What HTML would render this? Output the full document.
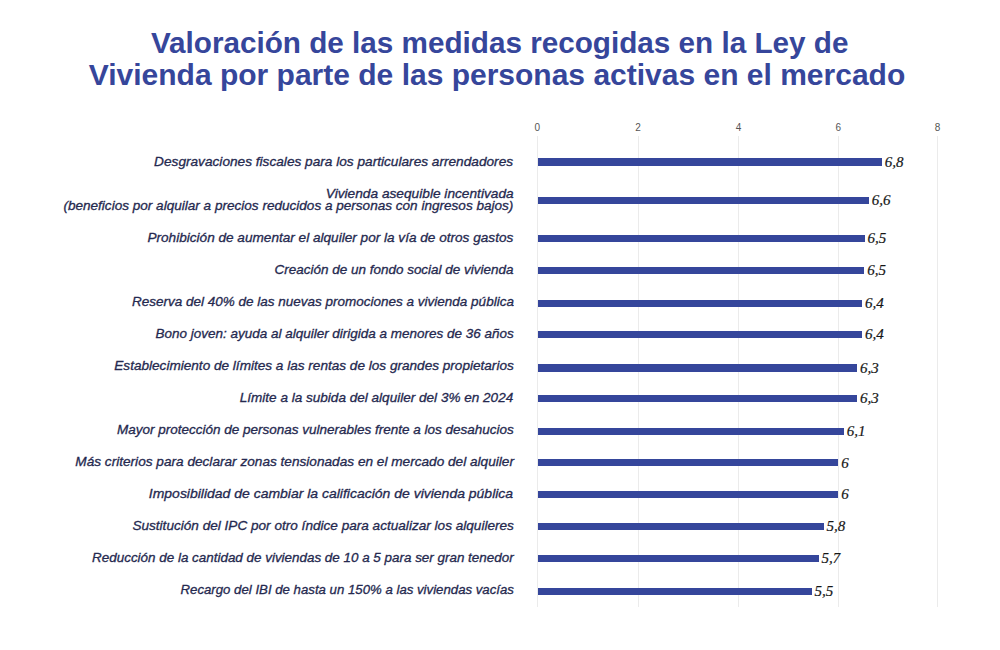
<!DOCTYPE html>
<html><head><meta charset="utf-8"><style>
html,body{margin:0;padding:0;background:#fff;}
body{width:1000px;height:650px;position:relative;overflow:hidden;font-family:"Liberation Sans",sans-serif;}
.title{position:absolute;left:0;width:1000px;text-align:center;color:#36469b;font-weight:bold;font-size:30px;line-height:32px;white-space:nowrap;}
.title span{display:inline-block;}
.g{position:absolute;top:136px;height:471px;width:1px;background:#ebebeb;}
.t{position:absolute;top:121px;width:40px;text-align:center;font-size:10px;line-height:14px;color:#555;}
.b{position:absolute;left:537.5px;height:7.2px;background:#35469b;}
.v{position:absolute;font-family:"Liberation Serif",serif;font-style:italic;font-size:15px;line-height:16px;color:#161616;-webkit-text-stroke:0.2px #161616;white-space:nowrap;}
.l{position:absolute;right:486.5px;font-style:italic;font-size:13.4px;line-height:14px;color:#25294f;-webkit-text-stroke:0.3px #25294f;white-space:nowrap;transform-origin:right center;}
</style></head><body>
<div class="title" style="top:27px"><span style="transform:scaleX(0.989)">Valoración de las medidas recogidas en la Ley de</span></div>
<div class="title" style="top:59px;left:-3px"><span>Vivienda por parte de las personas activas en el mercado</span></div>
<div class="g" style="left:536.8px"></div>
<div class="t" style="left:517.3px">0</div>
<div class="g" style="left:637.5px"></div>
<div class="t" style="left:618.0px">2</div>
<div class="g" style="left:738.0px"></div>
<div class="t" style="left:718.5px">4</div>
<div class="g" style="left:837.7px"></div>
<div class="t" style="left:818.2px">6</div>
<div class="g" style="left:937.1px"></div>
<div class="t" style="left:917.6px">8</div>
<div class="b" style="top:158.40px;width:344.3px"></div>
<div class="v" style="left:884.8px;top:154.0px">6,8</div>
<div class="l" style="top:154.7px;transform:scaleX(1.0196)">Desgravaciones fiscales para los particulares arrendadores</div>
<div class="b" style="top:196.70px;width:331.3px"></div>
<div class="v" style="left:871.8px;top:192.3px">6,6</div>
<div class="l" style="top:186.9px;transform:scaleX(1.0229)">Vivienda asequible incentivada</div>
<div class="l" style="top:199.4px;transform:scaleX(1.0126)">(beneficios por alquilar a precios reducidos a personas con ingresos bajos)</div>
<div class="b" style="top:234.60px;width:327.1px"></div>
<div class="v" style="left:867.6px;top:230.2px">6,5</div>
<div class="l" style="top:231.0px;transform:scaleX(1.0155)">Prohibición de aumentar el alquiler por la vía de otros gastos</div>
<div class="b" style="top:266.70px;width:326.8px"></div>
<div class="v" style="left:867.3px;top:262.3px">6,5</div>
<div class="l" style="top:263.0px;transform:scaleX(1.0059)">Creación de un fondo social de vivienda</div>
<div class="b" style="top:299.80px;width:324.5px"></div>
<div class="v" style="left:865.0px;top:295.4px">6,4</div>
<div class="l" style="top:295.0px;transform:scaleX(1.0077)">Reserva del 40% de las nuevas promociones a vivienda pública</div>
<div class="b" style="top:330.70px;width:324.5px"></div>
<div class="v" style="left:865.0px;top:326.3px">6,4</div>
<div class="l" style="top:327.0px;transform:scaleX(1.0073)">Bono joven: ayuda al alquiler dirigida a menores de 36 años</div>
<div class="b" style="top:364.40px;width:319.5px"></div>
<div class="v" style="left:860.0px;top:360.0px">6,3</div>
<div class="l" style="top:359.0px;transform:scaleX(1.0145)">Establecimiento de límites a las rentas de los grandes propietarios</div>
<div class="b" style="top:394.60px;width:319.5px"></div>
<div class="v" style="left:860.0px;top:390.2px">6,3</div>
<div class="l" style="top:391.0px;transform:scaleX(1.0122)">Límite a la subida del alquiler del 3% en 2024</div>
<div class="b" style="top:427.50px;width:306.3px"></div>
<div class="v" style="left:846.8px;top:423.1px">6,1</div>
<div class="l" style="top:423.0px;transform:scaleX(1.0074)">Mayor protección de personas vulnerables frente a los desahucios</div>
<div class="b" style="top:459.20px;width:300.7px"></div>
<div class="v" style="left:841.2px;top:454.8px">6</div>
<div class="l" style="top:455.0px;transform:scaleX(1.0179)">Más criterios para declarar zonas tensionadas en el mercado del alquiler</div>
<div class="b" style="top:490.70px;width:300.7px"></div>
<div class="v" style="left:841.2px;top:486.3px">6</div>
<div class="l" style="top:487.0px;transform:scaleX(1.0435)">Imposibilidad de cambiar la calificación de vivienda pública</div>
<div class="b" style="top:522.70px;width:286.0px"></div>
<div class="v" style="left:826.5px;top:518.3px">5,8</div>
<div class="l" style="top:519.0px;transform:scaleX(1.0149)">Sustitución del IPC por otro índice para actualizar los alquileres</div>
<div class="b" style="top:554.70px;width:281.0px"></div>
<div class="v" style="left:821.5px;top:550.3px">5,7</div>
<div class="l" style="top:551.0px;transform:scaleX(1.0021)">Reducción de la cantidad de viviendas de 10 a 5 para ser gran tenedor</div>
<div class="b" style="top:587.80px;width:274.1px"></div>
<div class="v" style="left:814.6px;top:583.4px">5,5</div>
<div class="l" style="top:583.0px;transform:scaleX(0.9867)">Recargo del IBI de hasta un 150% a las viviendas vacías</div>
</body></html>
